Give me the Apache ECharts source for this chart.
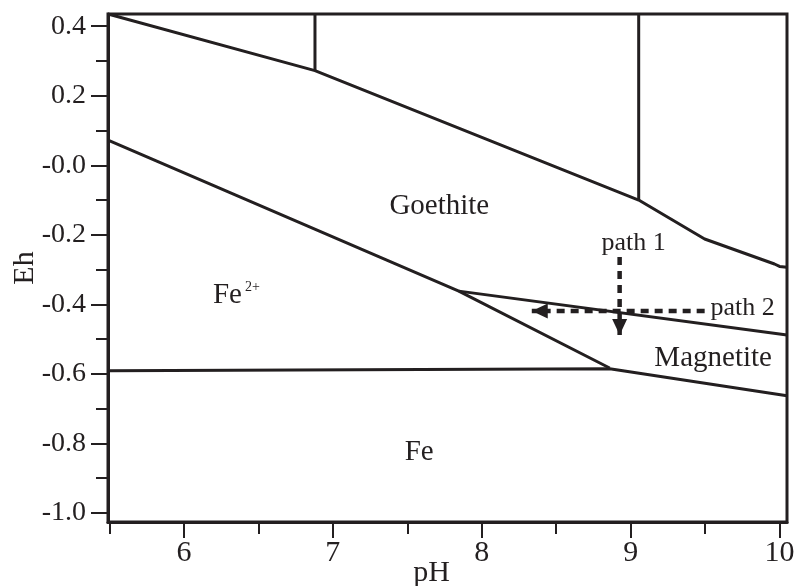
<!DOCTYPE html>
<html>
<head>
<meta charset="utf-8">
<script src="https://cdn.jsdelivr.net/npm/echarts@6/dist/echarts.min.js"></script>
<style>
  html, body { margin: 0; padding: 0; background: #ffffff; }
  #chart { width: 795px; height: 586px; }
</style>
</head>
<body>
<div id="chart"></div>
<script>
// Eh–pH stability diagram for iron phases (pH on x, Eh in volts on y)

// Axis extents
const phRange = [5.49, 10.05];
const ehRange = [-1.026, 0.435];

// Tick positions and labels
const phMajorTicks = [6, 7, 8, 9, 10];
const phMinorTicks = [5.5, 6.5, 7.5, 8.5, 9.5];
const phTickLabels = ['6', '7', '8', '9', '10'];
const ehMajorTicks = [0.4, 0.2, 0, -0.2, -0.4, -0.6, -0.8, -1.0];
const ehMinorTicks = [0.3, 0.1, -0.1, -0.3, -0.5, -0.7, -0.9];
const ehTickLabels = ['0.4', '0.2', '-0.0', '-0.2', '-0.4', '-0.6', '-0.8', '-1.0'];

// Phase boundaries as [pH, Eh] vertices
const goethiteUpper = [[5.49, 0.435], [6.88, 0.272], [9.054, -0.100], [9.497, -0.212], [9.966, -0.284], [10.0, -0.291], [10.05, -0.2935]];
const upperDivide1 = [[6.88, 0.435], [6.88, 0.272]];
const upperDivide2 = [[9.054, 0.435], [9.054, -0.100]];
const ferrousUpper = [[5.49, 0.072], [7.846, -0.362], [8.859, -0.583]];
const goethiteMagnetite = [[7.846, -0.362], [10.05, -0.488]];
const ironUpper = [[5.49, -0.591], [8.859, -0.585], [10.05, -0.663]];

// Reaction paths (start, end)
const path1 = [[8.926, -0.264], [8.926, -0.488]];
const path2 = [[9.497, -0.419], [8.336, -0.419]];

// Field labels
const regionText = ['Goethite', 'Fe{sup|2+}', 'Magnetite', 'Fe'];
const regionPos = [[7.715, -0.119], [6.352, -0.373], [9.554, -0.555], [7.58, -0.827]];
const pathText = ['path 1', 'path 2'];
const pathPos = [[9.02, -0.224], [9.752, -0.410]];

const INK = '#231f20';
const SERIF = 'Liberation Serif';

function tickLabel(values, labels) {
  return function (v) {
    for (let i = 0; i < values.length; i++) {
      if (Math.abs(values[i] - v) < 1e-9) return labels[i];
    }
    return '';
  };
}

function boundary(points) {
  return {
    type: 'line',
    data: points,
    symbol: 'none',
    lineStyle: { color: INK, width: 3 },
    animation: false,
    silent: true,
    z: 3
  };
}

function arrow(points, rotate, offset) {
  return {
    type: 'line',
    data: [
      { value: points[0], symbol: 'none' },
      { value: points[1], symbol: 'triangle', symbolSize: [15, 16], symbolRotate: rotate, symbolOffset: offset }
    ],
    showSymbol: true,
    showAllSymbol: true,
    itemStyle: { color: INK, borderWidth: 0, opacity: 1 },
    lineStyle: { color: INK, width: 4.5, type: [8, 6] },
    animation: false,
    silent: true,
    z: 4
  };
}

function textSeries(texts, positions, size) {
  return {
    type: 'scatter',
    symbolSize: 0,
    itemStyle: { opacity: 1, color: INK },
    data: texts.map((t, i) => ({ name: t, value: positions[i] })),
    label: {
      show: true,
      position: 'inside',
      formatter: p => p.name,
      color: INK,
      opacity: 1,
      fontFamily: SERIF,
      fontSize: size,
      rich: {
        sup: { fontFamily: SERIF, fontSize: 14, color: INK, verticalAlign: 'top', padding: [0, 0, 2, 3] }
      }
    },
    animation: false,
    silent: true,
    z: 5
  };
}

const chart = echarts.init(document.getElementById('chart'), null, { renderer: 'canvas' });

chart.setOption({
  backgroundColor: '#ffffff',
  grid: {
    left: 108, right: 8, top: 14, bottom: 64,
    outerBoundsMode: 'none',
    containLabel: false,
    show: true,
    borderColor: INK,
    borderWidth: 3,
    backgroundColor: 'transparent'
  },
  xAxis: [
    {
      type: 'value', min: phRange[0], max: phRange[1],
      name: 'pH', nameLocation: 'middle', nameGap: 36, nameMoveOverlap: false,
      nameTextStyle: { fontFamily: SERIF, fontSize: 30, color: INK, padding: [0, 32, 0, 0] },
      axisLine: { show: true, onZero: false, lineStyle: { color: INK, width: 3 } },
      axisTick: { show: true, length: 16, customValues: phMajorTicks, lineStyle: { color: INK, width: 2 } },
      axisLabel: { show: true, customValues: phMajorTicks, formatter: tickLabel(phMajorTicks, phTickLabels),
        fontFamily: SERIF, fontSize: 30, color: INK, margin: 16 },
      splitLine: { show: false }
    },
    {
      type: 'value', min: phRange[0], max: phRange[1], position: 'bottom',
      axisLine: { show: false, onZero: false },
      axisTick: { show: true, length: 12, customValues: phMinorTicks, lineStyle: { color: INK, width: 2 } },
      axisLabel: { show: false },
      splitLine: { show: false }
    }
  ],
  yAxis: [
    {
      type: 'value', min: ehRange[0], max: ehRange[1],
      name: 'Eh', nameLocation: 'middle', nameGap: 68, nameRotate: 90, nameMoveOverlap: false,
      nameTextStyle: { fontFamily: SERIF, fontSize: 30, color: INK },
      axisLine: { show: true, onZero: false, lineStyle: { color: INK, width: 3 } },
      axisTick: { show: true, length: 17, customValues: ehMajorTicks, lineStyle: { color: INK, width: 2 } },
      axisLabel: { show: true, customValues: ehMajorTicks, formatter: tickLabel(ehMajorTicks, ehTickLabels),
        fontFamily: SERIF, fontSize: 28, color: INK, margin: 22 },
      splitLine: { show: false }
    },
    {
      type: 'value', min: ehRange[0], max: ehRange[1], position: 'left',
      axisLine: { show: false, onZero: false },
      axisTick: { show: true, length: 12, customValues: ehMinorTicks, lineStyle: { color: INK, width: 2 } },
      axisLabel: { show: false },
      splitLine: { show: false }
    }
  ],
  series: [
    boundary(goethiteUpper),
    boundary(upperDivide1),
    boundary(upperDivide2),
    boundary(ferrousUpper),
    boundary(goethiteMagnetite),
    boundary(ironUpper),
    arrow(path1, 180, [0, -8]),
    arrow(path2, 90, [8, 0]),
    textSeries(regionText, regionPos, 29),
    textSeries(pathText, pathPos, 26)
  ]
});
</script>
</body>
</html>
